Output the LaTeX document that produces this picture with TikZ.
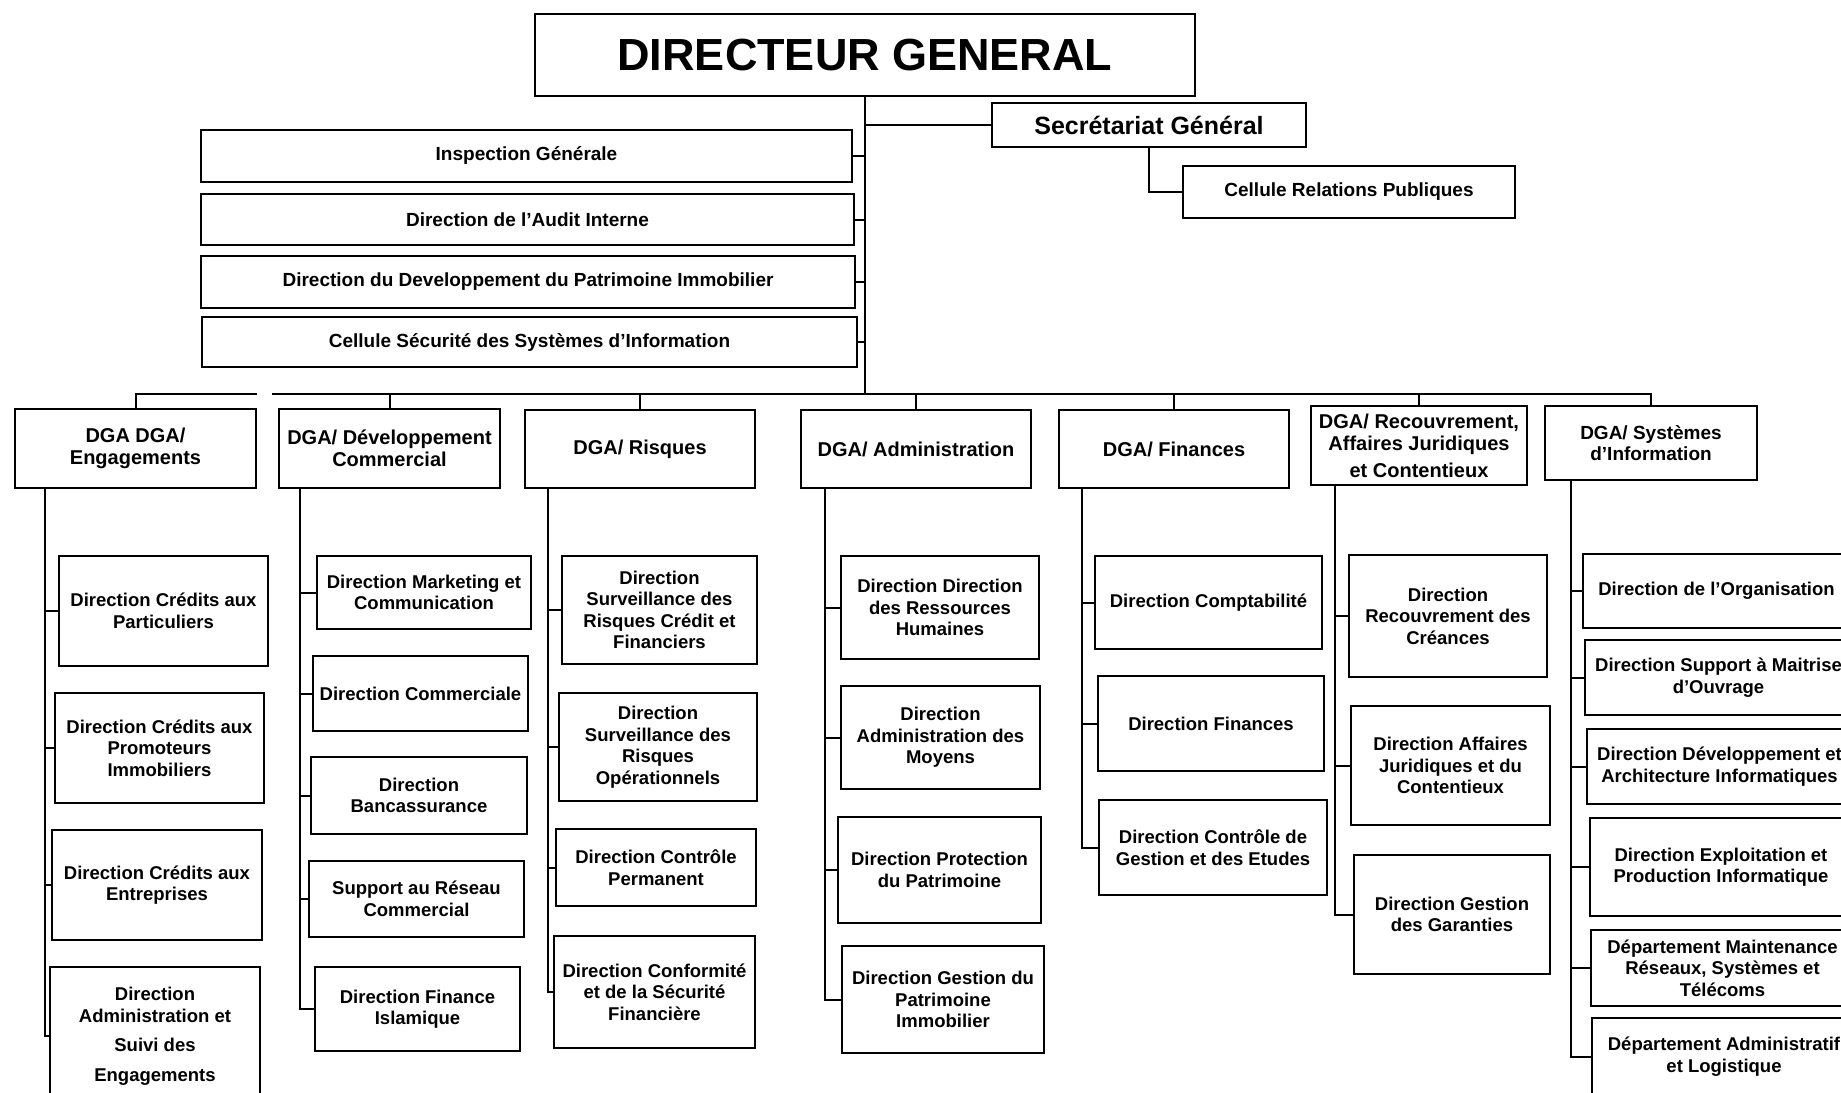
\documentclass[tikz,border=0pt]{standalone}
\usepackage{fontspec}
\setmainfont{Liberation Sans}
\tikzset{
  box/.style={draw, line width=2.3pt, fill=white, inner sep=2pt, align=center,
    font=\bfseries\fontsize{18.5}{21.5}\selectfont},
  dga/.style={box, font=\bfseries\fontsize{20}{22}\selectfont},
  staff/.style={box, font=\bfseries\fontsize{19}{21}\selectfont},
  conn/.style={line width=2pt, line cap=rect},
}
\newcommand{\bx}[7][box]{\node[#1, minimum width={(#5)-(#3)}, minimum height={(#6)-(#4)}] (#2) at ({((#3)+(#5))/2},{((#4)+(#6))/2}) {#7};}
\begin{document}
\begin{tikzpicture}[x=1pt,y=-1pt]
\useasboundingbox (0,0) rectangle (1841,1092);
\fill[white] (0,0) rectangle (1841,1092);
\clip (0,0) rectangle (1841,1092);

% top
\bx[box, font=\bfseries\fontsize{45}{50}\selectfont]{dg}{535}{14}{1195}{96}{DIRECTEUR GENERAL}
\bx[box, font=\bfseries\fontsize{25}{28}\selectfont]{sg}{992}{103}{1306}{147}{Secrétariat Général}
\bx[box, font=\bfseries\fontsize{19}{22}\selectfont]{crp}{1183}{166}{1515}{218}{Cellule Relations Publiques}
\bx[staff]{s1}{201}{130}{852}{182}{Inspection Générale}
\bx[staff]{s2}{201}{194}{854}{245}{Direction de l'Audit Interne}
\bx[staff]{s3}{201}{256}{855}{308}{Direction du Developpement du Patrimoine Immobilier}
\bx[staff]{s4}{202}{317}{857}{367}{Cellule Sécurité des Systèmes d'Information}

\coordinate (bus) at (865,394);

% DGA
\bx[dga]{d1}{15}{409}{256}{488}{DGA DGA/\\Engagements}
\bx[dga]{d2}{279}{409}{500}{488}{DGA/ Développement\\Commercial}
\bx[dga]{d3}{525}{410}{755}{488}{DGA/ Risques}
\bx[dga]{d4}{801}{410}{1031}{488}{DGA/ Administration}
\bx[dga]{d5}{1059}{410}{1289}{488}{DGA/ Finances}
\bx[dga]{d6}{1311}{406}{1527}{485}{DGA/ Recouvrement,\\Affaires Juridiques\\[5pt]et Contentieux}
\bx[dga, font=\bfseries\fontsize{19}{21}\selectfont]{d7}{1545}{406}{1757}{480}{DGA/ Systèmes\\d'Information}

% column 1
\bx{k11}{59}{556}{268}{666}{Direction Crédits aux\\Particuliers}
\bx{k12}{55}{693}{264}{803}{Direction Crédits aux\\Promoteurs\\Immobiliers}
\bx{k13}{52}{830}{262}{940}{Direction Crédits aux\\Entreprises}
\bx{k14}{50}{967}{260}{1105}{Direction\\Administration et\\[8pt]Suivi des\\[8pt]Engagements}
% column 2
\bx{k21}{317}{556}{531}{629}{Direction Marketing et\\Communication}
\bx{k22}{313}{656}{528}{731}{Direction Commerciale}
\bx{k23}{311}{757}{527}{834}{Direction\\Bancassurance}
\bx{k24}{309}{861}{524}{937}{Support au Réseau\\Commercial}
\bx{k25}{315}{967}{520}{1051}{Direction Finance\\Islamique}
% column 3
\bx{k31}{562}{556}{757}{664}{Direction\\Surveillance des\\Risques Crédit et\\Financiers}
\bx{k32}{559}{693}{757}{801}{Direction\\Surveillance des\\Risques\\Opérationnels}
\bx{k33}{556}{829}{756}{906}{Direction Contrôle\\Permanent}
\bx{k34}{554}{936}{755}{1048}{Direction Conformité\\et de la Sécurité\\Financière}
% column 4
\bx{k41}{841}{556}{1039}{659}{Direction Direction\\des Ressources\\Humaines}
\bx{k42}{841}{686}{1040}{789}{Direction\\Administration des\\Moyens}
\bx{k43}{838}{817}{1041}{923}{Direction Protection\\du Patrimoine}
\bx{k44}{842}{946}{1044}{1053}{Direction Gestion du\\Patrimoine\\Immobilier}
% column 5
\bx{k51}{1095}{556}{1322}{649}{Direction Comptabilité}
\bx{k52}{1098}{676}{1324}{771}{Direction Finances}
\bx{k53}{1099}{800}{1327}{895}{Direction Contrôle de\\Gestion et des Etudes}
% column 6
\bx{k61}{1349}{555}{1547}{677}{Direction\\Recouvrement des\\Créances}
\bx{k62}{1351}{706}{1550}{825}{Direction Affaires\\Juridiques et du\\Contentieux}
\bx{k63}{1354}{855}{1550}{974}{Direction Gestion\\des Garanties}
% column 7
\bx{k71}{1583}{554}{1850}{628}{Direction de l'Organisation}
\bx{k72}{1585}{640}{1852}{715}{Direction Support à Maitrise\\d'Ouvrage}
\bx{k73}{1587}{729}{1852}{804}{Direction Développement et\\Architecture Informatiques}
\bx{k74}{1590}{818}{1852}{916}{Direction Exploitation et\\Production Informatique}
\bx{k75}{1591}{930}{1854}{1006}{Département Maintenance\\Réseaux, Systèmes et\\Télécoms}
\bx{k76}{1592}{1018}{1856}{1095}{Département Administratif\\et Logistique}

% connectors top
\draw[conn] (dg.south) -- (bus);
\draw[conn] (sg.west -| dg.south) -- (sg.west);
\draw[conn] (sg.south) |- (crp.west);
\foreach \s in {s1,s2,s3,s4} \draw[conn] (\s.east) -- (\s.east -| bus);

% bus
\draw[conn] (d1.north |- bus) -- ([xshift=120pt]d1.north |- bus);
\draw[conn] ([xshift=137pt]d1.north |- bus) -- (d7.north |- bus);
\foreach \d in {d1,d2,d3,d4,d5,d6,d7} \draw[conn] (\d.north) -- (\d.north |- bus);

% column verticals
\coordinate (v1) at (45,0);
\coordinate (v2) at (300,0);
\coordinate (v3) at (548,0);
\coordinate (v4) at (825,0);
\coordinate (v5) at (1082,0);
\coordinate (v6) at (1335,0);
\coordinate (v7) at (1571,0);

\draw[conn] (d1.south -| v1) |- (k14.west);
\foreach \k in {k11,k12,k13} \draw[conn] (\k.west) -- (\k.west -| v1);
\draw[conn] (d2.south -| v2) |- (k25.west);
\foreach \k in {k21,k22,k23,k24} \draw[conn] (\k.west) -- (\k.west -| v2);
\draw[conn] (d3.south -| v3) |- (k34.west);
\foreach \k in {k31,k32,k33} \draw[conn] (\k.west) -- (\k.west -| v3);
\draw[conn] (d4.south -| v4) |- (k44.west);
\foreach \k in {k41,k42,k43} \draw[conn] (\k.west) -- (\k.west -| v4);
\draw[conn] (d5.south -| v5) |- (k53.west);
\foreach \k in {k51,k52} \draw[conn] (\k.west) -- (\k.west -| v5);
\draw[conn] (d6.south -| v6) |- (k63.west);
\foreach \k in {k61,k62} \draw[conn] (\k.west) -- (\k.west -| v6);
\draw[conn] (d7.south -| v7) |- (k76.west);
\foreach \k in {k71,k72,k73,k74,k75} \draw[conn] (\k.west) -- (\k.west -| v7);
\end{tikzpicture}
\end{document}
